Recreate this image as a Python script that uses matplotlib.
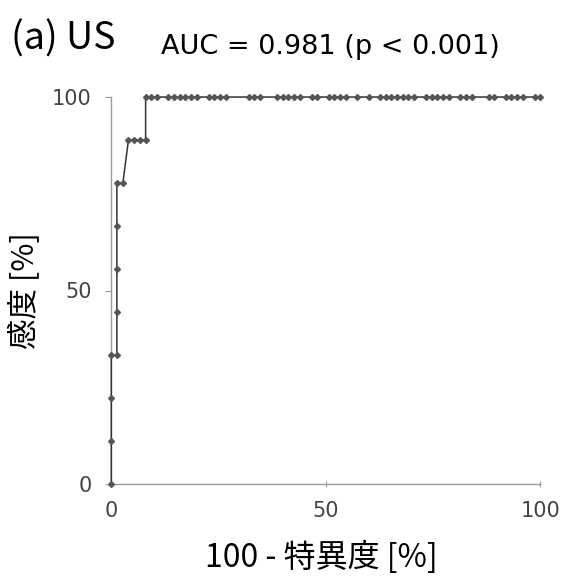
import numpy as np
import matplotlib
matplotlib.use("Agg")
import matplotlib.pyplot as plt

plt.rcParams['font.family'] = ['Noto Sans CJK JP', 'DejaVu Sans']

# =========================
# ROC data (in %)
# =========================
fpr = [0, 0, 0, 0, 1.3, 1.3, 1.3, 1.3, 1.3, 2.7,
       4.0, 5.3, 6.7, 8.0, 8.0,
       9.3, 10.7, 13.3, 14.7, 16.0, 17.3, 18.7, 20.0,
       22.7, 24.0, 25.3, 26.7, 32.0, 33.3, 34.7,
       38.7, 40.0, 41.3, 42.7, 44.0, 46.7, 48.0,
       50.7, 52.0, 53.3, 54.7, 57.3, 60.0,
       62.7, 64.0, 65.3, 66.7, 68.0, 69.3, 70.7,
       73.3, 74.7, 76.0, 77.3, 78.7, 81.3, 82.7, 84.0,
       88.0, 89.3, 92.0, 93.3, 94.7, 96.0, 98.7, 100]
tpr = [0, 11.1, 22.2, 33.3, 33.3, 44.4, 55.6, 66.7, 77.8, 77.8,
       88.9, 88.9, 88.9, 88.9] + [100] * 52

title_text = "AUC = 0.981 (p < 0.001)"
panel_label = "(a) US"
xlabel = "100 - 特異度 [%]"
ylabel = "感度 [%]"
ticks = [0, 50, 100]

# =========================
# PLOT
# =========================
fig = plt.figure(figsize=(5.65, 5.81), dpi=100)
ax = fig.add_axes([0.197, 0.167, 0.759, 0.666])

ax.plot(fpr, tpr, color="#333333", lw=1.1, marker="D", ms=3.0,
        mfc="#555555", mec="#555555", clip_on=False, zorder=3)

ax.set_xlim(0, 100)
ax.set_ylim(0, 100)
ax.set_xticks(ticks)
ax.set_yticks(ticks)

for s in ["top", "right"]:
    ax.spines[s].set_visible(False)
for s in ["left", "bottom"]:
    ax.spines[s].set_color("#999999")
    ax.spines[s].set_linewidth(1.0)

tick_font = {"family": "DejaVu Sans", "size": 15}
ax.tick_params(axis="y", direction="out", length=4, color="#999999",
               labelcolor="#444444", pad=10)
ax.tick_params(axis="x", direction="inout", length=5, color="#999999",
               labelcolor="#444444", pad=10)
for lab in ax.get_xticklabels() + ax.get_yticklabels():
    lab.set_fontproperties(tick_font)

ax.set_xlabel(xlabel, fontsize=23)
ax.set_ylabel(ylabel, fontsize=22)
ax.xaxis.set_label_coords(0.49, -0.19)
ax.yaxis.set_label_coords(-0.2, 0.5)
ax.xaxis.label.set_va("center")
ax.yaxis.label.set_va("center")

fig.text(0.02, 0.932, panel_label, fontsize=27, va="center", ha="left")
fig.text(0.585, 0.919, title_text, fontsize=19.5, va="center", ha="center",
         family="DejaVu Sans")

plt.savefig("out.png", dpi=100)
